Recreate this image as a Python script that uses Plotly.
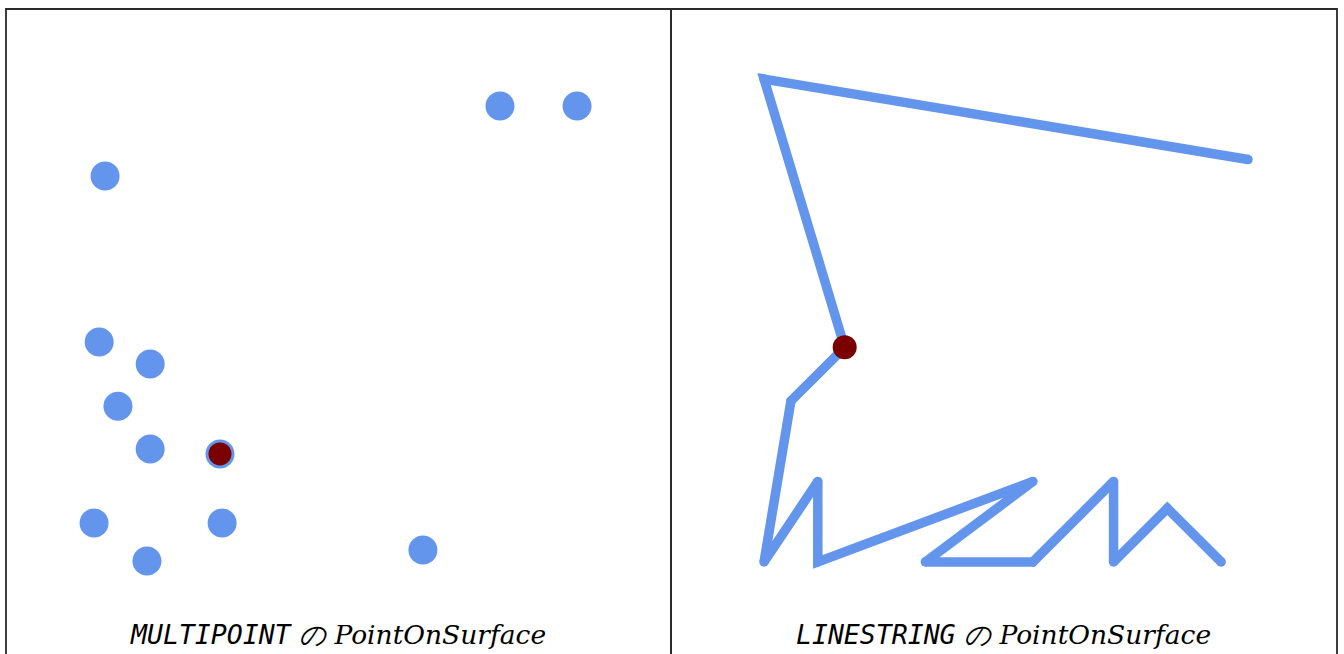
import plotly.graph_objects as go

# Left panel: MULTIPOINT points (grid units, y up)
mp_x = [15.12, 17.99, 0.41, 0.19, 2.09, 0.89, 2.09, 4.69, 0.0, 4.77, 1.97, 12.25]
mp_y = [16.95, 16.95, 14.34, 8.16, 7.34, 5.77, 4.17, 3.99, 1.42, 1.42, 0.0, 0.41]
mp_pos_x = [4.69]
mp_pos_y = [3.99]

# Right panel: LINESTRING vertices (grid units, y up)
ls_x = [18, 0, 3, 1, 0, 2, 2, 10, 6, 10, 13, 13, 15, 17]
ls_y = [15, 18, 8, 6, 0, 3, 0, 3, 0, 0, 3, 0, 2, 0]
ls_pos_x = [3]
ls_pos_y = [8]

titles = ["MULTIPOINT", "LINESTRING"]

BLUE = "#6495ED"
RED = "#7a0000"
W, H = 1344, 654

fig = go.Figure()
fig.add_trace(go.Scatter(x=mp_x, y=mp_y, mode="markers",
                         marker=dict(size=29, color=BLUE, line=dict(width=0)),
                         xaxis="x", yaxis="y", cliponaxis=False, hoverinfo="skip"))
fig.add_trace(go.Scatter(x=mp_pos_x, y=mp_pos_y, mode="markers",
                         marker=dict(size=23, color=RED, line=dict(width=0)),
                         xaxis="x", yaxis="y", cliponaxis=False, hoverinfo="skip"))
fig.add_trace(go.Scatter(x=ls_x, y=ls_y, mode="lines+markers",
                         line=dict(color=BLUE, width=9.5),
                         marker=dict(size=9.5, color=BLUE, line=dict(width=0)),
                         xaxis="x2", yaxis="y2", cliponaxis=False, hoverinfo="skip"))
fig.add_trace(go.Scatter(x=ls_pos_x, y=ls_pos_y, mode="markers",
                         marker=dict(size=24, color=RED, line=dict(width=0)),
                         xaxis="x2", yaxis="y2", cliponaxis=False, hoverinfo="skip"))

ax = dict(visible=False, showgrid=False, zeroline=False, fixedrange=True)
top = 1 - 9 / H
fig.update_layout(
    width=W, height=H, margin=dict(l=0, r=0, t=0, b=0),
    paper_bgcolor="white", plot_bgcolor="white", showlegend=False,
    xaxis=dict(ax, domain=[6 / W, 671 / W], range=[-3.28, 21.49]),
    yaxis=dict(ax, domain=[0, top], range=[-3.46, 20.56]),
    xaxis2=dict(ax, domain=[671 / W, 1337 / W], range=[-3.46, 21.31]),
    yaxis2=dict(ax, domain=[0, top], range=[-3.43, 20.61]),
)

# panel borders
for x0, x1 in [(6, 671), (671, 1337)]:
    fig.add_shape(type="rect", xref="paper", yref="paper",
                  x0=x0 / W, x1=x1 / W, y0=-0.1, y1=top,
                  line=dict(color="#2a2a2a", width=1.8), fillcolor="rgba(0,0,0,0)")

for cx, name in [(338, titles[0]), (1003, titles[1])]:
    fig.add_annotation(
        xref="paper", yref="paper", x=cx / W, y=1 - 634 / H,
        xanchor="center", yanchor="middle", showarrow=False,
        text=f"<span style='font-family:DejaVu Sans Mono'>{name}</span> の PointOnSurface",
        font=dict(family="DejaVu Serif", size=26.5, color="black", style="italic"),
    )

fig.write_html("out.html", config={"displayModeBar": False},
               post_script="document.body.style.margin='0';document.body.style.padding='0';")
